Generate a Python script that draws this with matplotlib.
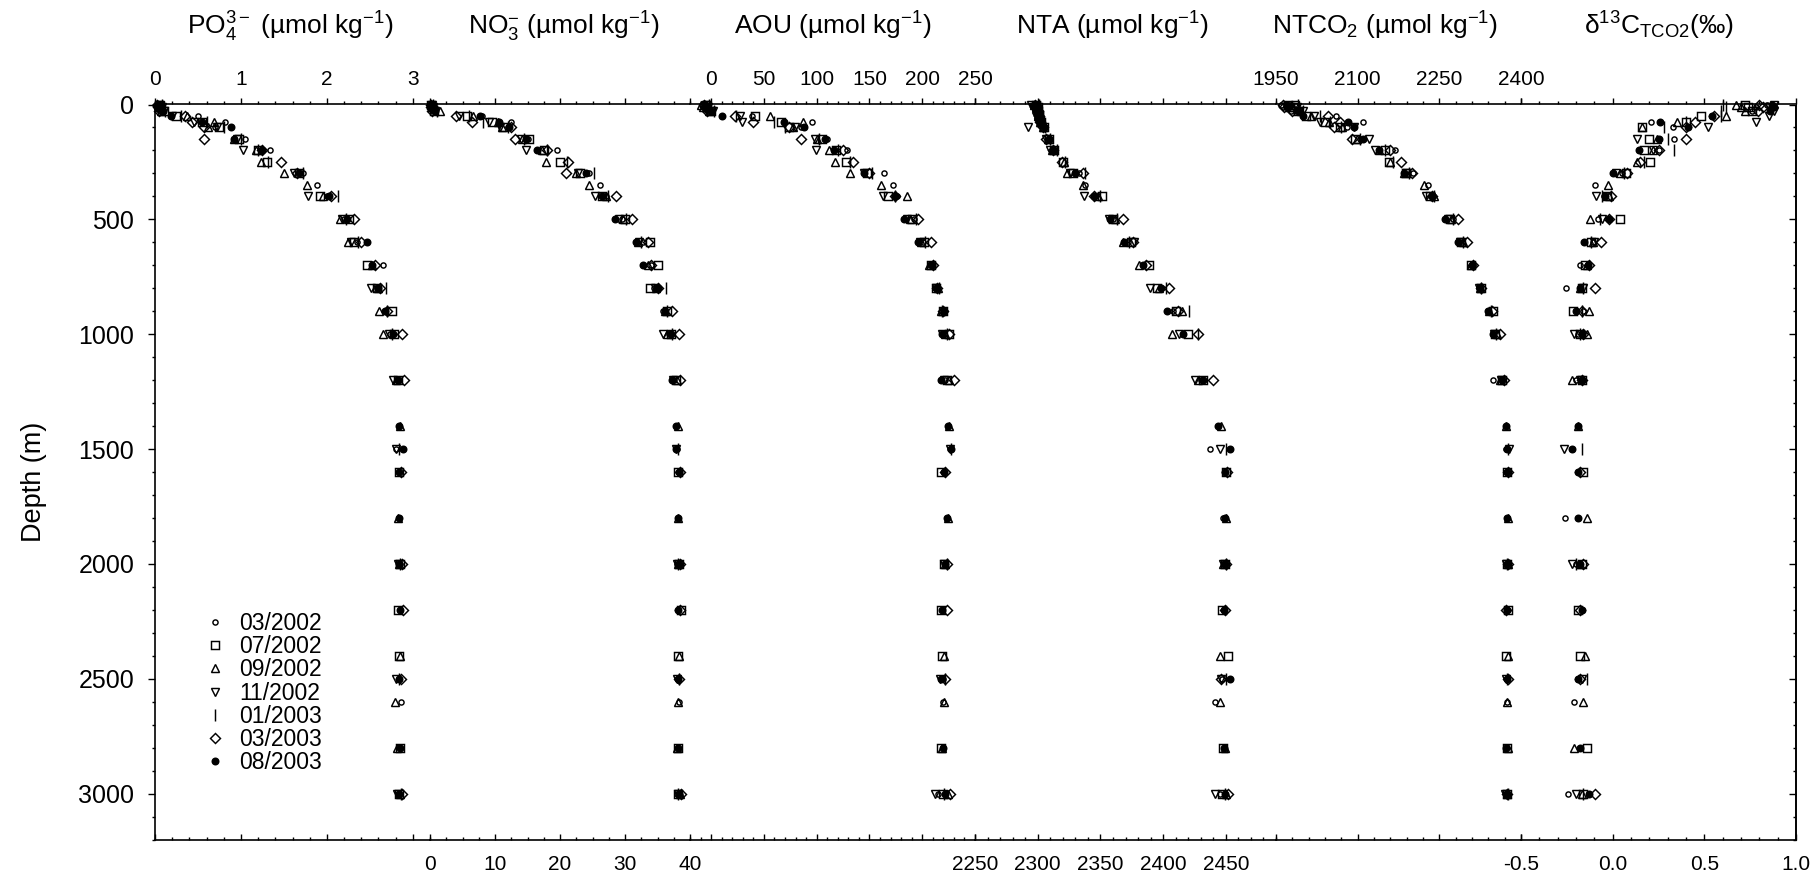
import matplotlib.pyplot as plt
from matplotlib.ticker import MultipleLocator, FormatStrFormatter

plt.rcParams['font.family'] = ['Liberation Sans', 'DejaVu Sans']
plt.rcParams['mathtext.fontset'] = 'custom'
plt.rcParams['mathtext.rm'] = 'Liberation Sans'
plt.rcParams['mathtext.it'] = 'Liberation Sans:italic'
plt.rcParams['mathtext.bf'] = 'Liberation Sans:bold'
plt.rcParams['axes.unicode_minus'] = False

cruise_labels = ['03/2002', '07/2002', '09/2002', '11/2002', '01/2003', '03/2003', '08/2003']

# ---- 03/2002 ----
depth_0302 = [0, 10, 30, 50, 75, 100, 150, 200, 300, 350, 400, 500, 600, 700, 800, 900, 1000,
              1200, 1500, 1800, 2000, 2500, 2600, 3000]
po4_0302 = [0.03, 0.04, 0.06, 0.50, 0.81, 0.70, 1.05, 1.34, 1.72, 1.89, 2.00, 2.20, 2.35, 2.65, 2.58, 2.68, 2.74,
            2.82, 2.80, 2.84, 2.85, 2.84, 2.86, 2.83]
no3_0302 = [0.1, 0.2, 0.4, 8.0, 12.5, 12.0, 15.0, 19.6, 24.4, 26.2, 27.0, 29.5, 32.8, 34.0, 34.5, 35.8, 36.8,
            37.6, 38.0, 38.1, 38.0, 38.2, 38.3, 38.0]
aou_0302 = [-8, -6, -3, 38.8, 96, 85, 110, 129, 164, 172, 176, 192, 201, 207, 212, 219, 221,
            222, 226, 223, 222, 220, 220, 215]
nta_0302 = [2296, 2297, 2299, 2301, 2303, 2306, 2310, 2314, 2333, 2338, 2346, 2360, 2372, 2384, 2398, 2408, 2416,
            2430, 2437, 2448, 2449, 2447, 2441, 2445]
ntco2_0302 = [1960, 1968, 1978, 2060, 2110, 2080, 2104, 2169, 2201, 2230, 2238, 2275, 2292, 2312, 2322, 2340, 2349,
              2349, 2372, 2374, 2374, 2375, 2374, 2372]
d13c_0302 = [0.84, 0.78, 0.76, 0.54, 0.21, 0.33, 0.335, 0.25, 0.05, -0.095, -0.05, -0.08, -0.11, -0.18, -0.254, -0.16, -0.19,
             -0.2, -0.22, -0.26, -0.2, -0.19, -0.21, -0.245]

# ---- 07/2002 ----
depth_0702 = [0, 10, 30, 50, 75, 100, 150, 200, 250, 300, 400, 500, 600, 700, 800, 900, 1000,
              1200, 1600, 2000, 2200, 2400, 2800, 3000]
po4_0702 = [0.05, 0.06, 0.10, 0.25, 0.55, 0.75, 0.98, 1.20, 1.30, 1.68, 1.92, 2.26, 2.31, 2.47, 2.58, 2.76, 2.78,
            2.83, 2.84, 2.85, 2.83, 2.84, 2.85, 2.84]
no3_0702 = [0.2, 0.3, 0.6, 5.7, 9.5, 11.2, 15.2, 17.5, 20.0, 23.0, 26.5, 30.0, 33.9, 35.0, 33.9, 36.4, 37.0,
            37.8, 38.2, 38.3, 38.6, 38.1, 38.1, 38.2]
aou_0702 = [-5, -4, 0, 41.7, 66, 74, 105, 118, 128, 148, 168, 190, 202, 208, 213, 220, 225,
            223, 218, 221, 218, 219, 218, 220]
nta_0702 = [2299, 2300, 2300, 2301, 2303, 2305, 2309, 2313, 2320, 2328, 2351, 2360, 2374, 2389, 2395, 2410, 2420,
            2432, 2450, 2449, 2447, 2452, 2448, 2447]
ntco2_0702 = [1972, 1975, 1990, 2005, 2040, 2068, 2095, 2150, 2158, 2188, 2232, 2270, 2290, 2308, 2326, 2349, 2352,
              2365, 2374, 2375, 2376, 2373, 2375, 2374]
d13c_0702 = [0.72, 0.74, 0.76, 0.48, 0.40, 0.16, 0.20, 0.17, 0.206, 0.07, -0.03, 0.04, -0.12, -0.15, -0.17, -0.215, -0.18,
             -0.17, -0.16, -0.17, -0.19, -0.18, -0.14, -0.16]

# ---- 09/2002 ----
depth_0902 = [0, 10, 30, 50, 75, 100, 150, 200, 250, 300, 350, 400, 500, 600, 700, 800, 900, 1000,
              1200, 1400, 1800, 2000, 2400, 2600, 2800, 3000]
po4_0902 = [0.04, 0.05, 0.07, 0.37, 0.69, 0.62, 0.92, 1.18, 1.23, 1.50, 1.77, 1.96, 2.15, 2.24, 2.52, 2.60, 2.61, 2.65,
            2.80, 2.85, 2.83, 2.84, 2.85, 2.79, 2.82, 2.85]
no3_0902 = [0.3, 0.4, 1.5, 6.6, 10.5, 11.0, 14.2, 17.2, 17.8, 22.5, 24.4, 27.1, 29.7, 32.0, 33.5, 34.8, 36.2, 36.5,
            38.0, 38.2, 38.2, 38.1, 38.3, 38.2, 38.0, 38.4]
aou_0902 = [-9.5, -7.6, -2, 56, 86.8, 78, 100, 112, 117.6, 131.6, 161, 185.7, 188, 199, 206, 215, 218, 222,
            225, 225.5, 224, 222, 221, 221, 219, 224]
nta_0902 = [2297, 2299, 2300, 2300, 2302, 2304, 2308, 2311, 2321, 2323, 2336, 2348, 2362, 2368, 2381, 2397, 2415, 2407,
            2428, 2446, 2450, 2448, 2445.5, 2445.6, 2449, 2450]
ntco2_0902 = [1978, 1980, 1995, 2015, 2048, 2072, 2098, 2140, 2160, 2185, 2222, 2240, 2272, 2294, 2308, 2324, 2342, 2356,
              2362, 2372, 2376, 2376, 2377, 2374, 2376, 2375]
d13c_0902 = [0.67, 0.70, 0.72, 0.62, 0.35, 0.16, 0.24, 0.22, 0.13, 0.04, -0.024, -0.02, -0.122, -0.11, -0.14, -0.18, -0.13, -0.14,
             -0.22, -0.19, -0.14, -0.18, -0.15, -0.16, -0.21, -0.17]

# ---- 11/2002 ----
depth_1102 = [0, 10, 30, 50, 75, 100, 150, 200, 300, 400, 500, 600, 800,
              1000, 1200, 1500, 2000, 2500, 3000]
po4_1102 = [0.06, 0.08, 0.10, 0.20, 0.45, 0.72, 0.95, 1.02, 1.62, 1.78, 2.18, 2.28, 2.51,
            2.72, 2.77, 2.80, 2.83, 2.80, 2.82]
no3_1102 = [0.3, 0.4, 0.8, 4.5, 9.0, 10.8, 14.0, 14.7, 22.8, 25.4, 29.0, 32.2, 34.6,
            35.9, 37.4, 37.8, 38.0, 38.0, 38.1]
aou_1102 = [-4, -3, 2, 27.5, 29.4, 79.6, 98, 99, 145, 163, 186, 198, 213,
            219, 221, 226, 221, 216.5, 212]
nta_1102 = [2295, 2296, 2298, 2299, 2300, 2292, 2307, 2310, 2326, 2336.6, 2357, 2377, 2389.6,
            2413, 2425.5, 2445, 2448, 2446, 2441]
ntco2_1102 = [1985, 1988, 2000, 2020, 2030, 2094, 2121, 2132, 2188, 2226, 2266, 2288, 2322,
              2350, 2364, 2378, 2373, 2373, 2371]
d13c_1102 = [0.88, 0.85, 0.88, 0.85, 0.78, 0.52, 0.13, 0.22, 0.02, -0.093, -0.06, -0.10, -0.16,
             -0.21, -0.18, -0.267, -0.22, -0.17, -0.20]

# ---- 01/2003 ----
depth_0103 = [0, 10, 30, 50, 75, 100, 150, 200, 250, 300, 400, 500, 600, 800, 900, 1000,
              1500, 2000, 2500, 3000]
po4_0103 = [0.08, 0.10, 0.12, 0.30, 0.60, 0.80, 1.00, 1.20, 1.32, 1.72, 2.13, 2.22, 2.36, 2.69, 2.70, 2.76,
            2.84, 2.85, 2.84, 2.86]
no3_0103 = [0.5, 0.6, 1.0, 6.0, 8.2, 12.0, 14.5, 18.0, 21.0, 25.3, 27.4, 30.2, 32.5, 36.3, 36.5, 37.3,
            38.1, 38.2, 38.3, 38.2]
aou_0103 = [-2, -1, 3, 24, 60, 70, 102, 120, 132, 152, 174, 194, 203, 216, 219, 223,
            227, 223, 222, 221]
nta_0103 = [2301, 2302, 2303, 2304, 2305, 2306, 2310, 2315, 2322, 2338, 2350, 2363, 2373, 2402, 2421, 2428,
            2450, 2450, 2450, 2449]
ntco2_0103 = [1990, 1992, 2000, 2030, 2050, 2070, 2105, 2150, 2165, 2195, 2240, 2275, 2294, 2326, 2345, 2354,
              2376, 2375, 2374, 2376]
d13c_0103 = [0.60, 0.62, 0.59, 0.59, 0.40, 0.28, 0.30, 0.335, 0.17, 0.06, -0.06, -0.07, -0.12, -0.16, -0.17, -0.18,
             -0.166, -0.2, -0.14, -0.16]

# ---- 03/2003 ----
depth_0303 = [0, 10, 30, 50, 75, 100, 150, 200, 250, 300, 400, 500, 600, 700, 800, 900, 1000,
              1200, 1600, 2000, 2200, 2500, 3000]
po4_0303 = [0.02, 0.03, 0.05, 0.35, 0.43, 0.57, 0.57, 1.25, 1.47, 1.65, 2.05, 2.31, 2.40, 2.56, 2.62, 2.70, 2.87,
            2.90, 2.86, 2.87, 2.88, 2.86, 2.87]
no3_0303 = [0.1, 0.1, 0.3, 4.0, 6.5, 12.5, 13.0, 18.0, 21.3, 20.9, 28.6, 31.1, 33.5, 34.0, 35.0, 37.2, 38.3,
            38.4, 38.4, 38.5, 38.5, 38.3, 38.6]
aou_0303 = [-7, -6, -4, 22.6, 40, 74, 85, 125, 134, 150, 174, 196, 208, 210, 214, 220, 225,
            230, 222, 223, 223, 222, 226]
nta_0303 = [2298, 2298, 2300, 2301, 2302, 2304, 2307, 2312, 2319, 2336, 2345, 2368, 2376, 2386, 2405, 2412, 2428,
            2440, 2451, 2450, 2449, 2446, 2452]
ntco2_0303 = [1962, 1965, 1980, 2046, 2067, 2057, 2090, 2160, 2180, 2200, 2236, 2285, 2300, 2312, 2327, 2346, 2362,
              2368.5, 2377, 2376, 2373, 2376, 2375]
d13c_0303 = [0.80, 0.82, 0.79, 0.55, 0.45, 0.40, 0.40, 0.25, 0.15, 0.08, -0.01, -0.02, -0.064, -0.13, -0.095, -0.17, -0.16,
             -0.166, -0.18, -0.16, -0.18, -0.18, -0.095]

# ---- 08/2003 ----
depth_0803 = [0, 10, 30, 50, 75, 100, 150, 200, 300, 400, 500, 600, 700, 800, 900, 1000,
              1200, 1400, 1500, 1600, 1800, 2000, 2200, 2500, 2800, 3000]
po4_0803 = [0.05, 0.06, 0.09, 0.19, 0.55, 0.88, 0.92, 1.25, 1.67, 2.03, 2.23, 2.47, 2.52, 2.60, 2.68, 2.77,
            2.83, 2.84, 2.88, 2.84, 2.84, 2.84, 2.85, 2.84, 2.85, 2.84]
no3_0803 = [0.2, 0.3, 0.7, 7.7, 10.6, 12.1, 14.8, 16.5, 24.0, 26.4, 28.5, 31.7, 32.7, 35.0, 36.1, 37.1,
            37.2, 37.8, 37.9, 38.3, 38.2, 38.3, 38.2, 38.2, 38.1, 38.3]
aou_0803 = [-6, -5, 0, 10.4, 68.7, 88, 108, 116, 145, 174, 183, 196, 209, 214, 221, 219,
            218, 224, 227, 221, 223, 222, 219, 218, 220, 222]
nta_0803 = [2299, 2300, 2301, 2302, 2303, 2305, 2309, 2312, 2330, 2345, 2357.6, 2369, 2384, 2398, 2403, 2416,
            2432, 2444, 2453, 2449, 2449, 2449, 2448.6, 2453, 2448.6, 2449]
ntco2_0803 = [1970, 1972, 1990, 2000, 2083, 2094, 2110, 2140, 2185, 2236, 2260, 2285, 2310, 2324.5, 2339, 2349,
              2365, 2373, 2375, 2374, 2375, 2374, 2375, 2374, 2373, 2374]
d13c_0803 = [0.87, 0.88, 0.86, 0.54, 0.26, 0.41, 0.25, 0.144, 0.0, -0.04, -0.02, -0.157, -0.137, -0.18, -0.2, -0.17,
             -0.166, -0.188, -0.22, -0.19, -0.19, -0.18, -0.17, -0.19, -0.18, -0.13]

depths = [depth_0302, depth_0702, depth_0902, depth_1102, depth_0103, depth_0303, depth_0803]
series = {
    'po4': [po4_0302, po4_0702, po4_0902, po4_1102, po4_0103, po4_0303, po4_0803],
    'no3': [no3_0302, no3_0702, no3_0902, no3_1102, no3_0103, no3_0303, no3_0803],
    'aou': [aou_0302, aou_0702, aou_0902, aou_1102, aou_0103, aou_0303, aou_0803],
    'nta': [nta_0302, nta_0702, nta_0902, nta_1102, nta_0103, nta_0303, nta_0803],
    'ntco2': [ntco2_0302, ntco2_0702, ntco2_0902, ntco2_1102, ntco2_0103, ntco2_0303, ntco2_0803],
    'd13c': [d13c_0302, d13c_0702, d13c_0902, d13c_1102, d13c_0103, d13c_0303, d13c_0803],
}

# marker, size, face
styles = [('o', 3.7, 'none'), ('s', 5.8, 'none'), ('^', 6.3, 'none'), ('v', 6.3, 'none'),
          ('|', 8.5, 'none'), ('D', 5.2, 'none'), ('o', 4.7, 'k')]

# key, xmin, xmax, left px, right px, major, minor, label side, fmt, title, title centre px
panels = [
    ('po4', 0, 3.2, 155, 430, 1, 0.2, 'top', '%g',
     r'PO$\mathregular{_4^{3-}}$ (µmol kg$\mathregular{^{-1}}$)', 290),
    ('no3', 0, 40, 430, 690, 10, 2.5, 'bottom', '%g',
     r'NO$\mathregular{_3^{-}}$ (µmol kg$\mathregular{^{-1}}$)', 564),
    ('aou', -20, 250, 690, 975, 50, 10, 'top', '%g',
     r'AOU (µmol kg$\mathregular{^{-1}}$)', 833),
    ('nta', 2250, 2490, 975, 1276, 50, 10, 'bottom', '%g',
     r'NTA (µmol kg$\mathregular{^{-1}}$)', 1112),
    ('ntco2', 1950, 2400, 1276, 1521, 150, 30, 'top', '%g',
     r'NTCO$\mathregular{_2}$ (µmol kg$\mathregular{^{-1}}$)', 1385),
    ('d13c', -0.5, 1.0, 1521, 1796, 0.5, 0.1, 'bottom', '%.1f',
     r'δ$\mathregular{^{13}}$C$\mathregular{_{TCO2}}$(‰)', 1659),
]

W, H = 1813, 876
fig = plt.figure(figsize=(W / 100, H / 100), dpi=100)
y_top, y_bot = 104.5, 839.5
ax_b = 1 - y_bot / H
ax_h = (y_bot - y_top) / H
DMAX = 3200

host = fig.add_axes([155 / W, ax_b, (1796 - 155) / W, ax_h])
host.set_ylim(DMAX, 0)
host.set_xticks([])
host.patch.set_visible(False)
host.spines['top'].set_visible(False)
host.spines['bottom'].set_visible(False)
for s in ('left', 'right'):
    host.spines[s].set_linewidth(1.2)
host.yaxis.set_major_locator(MultipleLocator(500))
host.yaxis.set_minor_locator(MultipleLocator(100))
host.tick_params(axis='y', which='both', direction='out', left=True, right=False,
                 labelsize=18, pad=10, width=1)
host.tick_params(axis='y', which='major', length=5)
host.tick_params(axis='y', which='minor', length=2.5)
rax = host.secondary_yaxis('right')
rax.yaxis.set_major_locator(MultipleLocator(500))
rax.yaxis.set_minor_locator(MultipleLocator(100))
rax.tick_params(which='both', direction='in', labelright=False, width=1)
rax.tick_params(which='major', length=5)
rax.tick_params(which='minor', length=2.5)
rax.spines['right'].set_linewidth(1.2)
fig.text(34 / W, 1 - 482 / H, 'Depth (m)', rotation=90, ha='center', va='center', fontsize=19.5)

handles = []
for key, lo, hi, p0, p1, major, minor, side, fmt, title, tx in panels:
    ax = fig.add_axes([p0 / W, ax_b, (p1 - p0) / W, ax_h])
    ax.set_xlim(lo, hi)
    ax.set_ylim(DMAX, 0)
    ax.patch.set_visible(False)
    ax.set_yticks([])
    for s in ('left', 'right', 'top'):
        ax.spines[s].set_visible(False)
    ax.spines['bottom'].set_linewidth(1.2)

    for i, lab in enumerate(cruise_labels):
        m, ms, fc = styles[i]
        ln, = ax.plot(series[key][i], depths[i], linestyle='none', marker=m, markersize=ms,
                      markerfacecolor=fc, markeredgecolor='k', markeredgewidth=1.05,
                      color='k', clip_on=False, label=lab)
        if key == 'po4':
            handles.append(ln)

    ax.xaxis.set_major_locator(MultipleLocator(major))
    ax.xaxis.set_minor_locator(MultipleLocator(minor))
    ax.xaxis.set_major_formatter(FormatStrFormatter(fmt))
    ax.tick_params(axis='x', which='both', direction='in', bottom=True, top=False,
                   labelbottom=(side == 'bottom'), labelsize=15, pad=11, width=1)
    ax.tick_params(axis='x', which='major', length=4.5)
    ax.tick_params(axis='x', which='minor', length=2.3)

    sec = ax.secondary_xaxis('top')
    sec.xaxis.set_major_locator(MultipleLocator(major))
    sec.xaxis.set_minor_locator(MultipleLocator(minor))
    sec.xaxis.set_major_formatter(FormatStrFormatter(fmt))
    sec.tick_params(which='both', direction='out', labeltop=(side == 'top'),
                    labelsize=15, pad=7, width=1)
    sec.tick_params(which='major', length=4.5)
    sec.tick_params(which='minor', length=2.3)
    sec.spines['top'].set_linewidth(1.2)

    fig.text(tx / W, 1 - 35 / H, title, ha='center', va='baseline', fontsize=19)

fig.legend(handles, cruise_labels, loc='upper left', bbox_to_anchor=(204 / W, 1 - 612 / H),
           frameon=False, fontsize=16.5, handlelength=1.0, handletextpad=0.52,
           labelspacing=0.01, borderpad=0, borderaxespad=0)

fig.savefig('out.png', dpi=100)
